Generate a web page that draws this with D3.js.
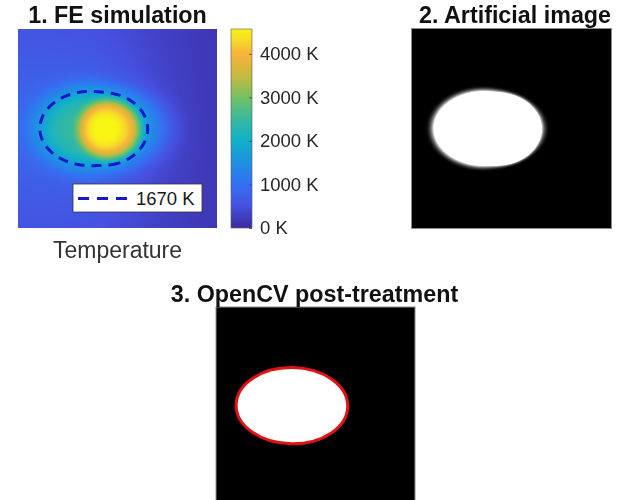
<!DOCTYPE html>
<html>
<head>
<meta charset="utf-8">
<script src="https://cdn.jsdelivr.net/npm/d3@7"></script>
<style>
  body { margin: 0; background: #fff; }
  #wrap { position: relative; width: 619px; height: 500px; overflow: hidden;
          font-family: "Liberation Sans", Arial, Helvetica, sans-serif; }
  #wrap canvas { position: absolute; }
  #wrap svg { position: absolute; left: 0; top: 0; }
</style>
</head>
<body>
<div id="wrap"></div>
<script>
// ---------------------------------------------------------------
// Data
// ---------------------------------------------------------------
const panelTitles = ["1. FE simulation", "2. Artificial image", "3. OpenCV post-treatment"];
const fieldLabel = "Temperature";
const colorbarTicks = [0, 1000, 2000, 3000, 4000];
const temperatureDomain = [0, 4570];
const isothermLevel = 1670;
const gridSize = [200, 200];

// Simulated temperature field on the plate (grid units, kelvin)
// ambient temperature: left edge, right edge
const ambientTemperature = [380, 150];
// heat terms: [amplitude, centre x, centre y, reach ahead, reach behind, half-height, sharpness]
const meltCore   = [2000, 92, 101, 31, 31, 30, 3];
const hotSpot    = [300, 92, 101, 15, 15, 15, 1];
const meltTrail  = [1700, 75, 100, 70, 58, 42.5, 2];
const wideHalo   = [500, 60, 100, 80, 150, 110, 1];

// parula colour map (position along the bar, colour)
const parulaPositions = [0, 0.109, 0.219, 0.328, 0.438, 0.547, 0.656, 0.766, 0.875, 0.94, 1];
const parulaColors = ["#3b2ba0", "#4650e0", "#3470f2", "#1e90e2", "#12b0c8", "#35b9a0",
                      "#74c062", "#c6ba40", "#f9b33a", "#f5d82a", "#f8f514"];

// ---------------------------------------------------------------
// Layout
// ---------------------------------------------------------------
const W = 619, H = 500;
const side = 199;
const p1 = { x: 18, y: 29 };
const cbar = { x: 231, y: 29, w: 21, h: 199 };
const p2 = { x: 412, y: 29 };
const p3 = { x: 216, y: 307 };

const [nx, ny] = gridSize;
const gx = d3.scaleLinear().domain([0, nx]).range([0, side]);
const gy = d3.scaleLinear().domain([0, ny]).range([0, side]);
const parula = d3.scaleLinear().domain(parulaPositions).range(parulaColors)
  .interpolate(d3.interpolateRgb).clamp(true);
const color = d3.scaleLinear().domain(temperatureDomain).range([0, 1]).clamp(true);
const colorOf = t => parula(color(t));
const ambient = d3.scaleLinear().domain([0, nx]).range(ambientTemperature);

function term(p, x, y) {
  const [A, cx, cy, ahead, behind, hy, power] = p;
  const dx = (x - cx) / (x >= cx ? ahead : behind);
  const dy = (y - cy) / hy;
  return A * Math.exp(-Math.pow(dx * dx + dy * dy, power));
}
function temperature(x, y) {
  return ambient(x) + term(meltCore, x, y) + term(hotSpot, x, y)
       + term(meltTrail, x, y) + term(wideHalo, x, y);
}

// sampled field on the grid
const values = new Float64Array(nx * ny);
for (let j = 0; j < ny; j++)
  for (let i = 0; i < nx; i++)
    values[j * nx + i] = temperature(i + 0.5, j + 0.5);

const wrap = d3.select("#wrap");

// ---------------------------------------------------------------
// Raster panels
// ---------------------------------------------------------------
function paintCanvas(pos, pixel) {
  const cv = wrap.append("canvas")
    .attr("width", side).attr("height", side)
    .style("left", pos.x + "px").style("top", pos.y + "px");
  const ctx = cv.node().getContext("2d");
  const img = ctx.createImageData(side, side);
  for (let py = 0; py < side; py++) {
    for (let px = 0; px < side; px++) {
      const t = temperature(gx.invert(px + 0.5), gy.invert(py + 0.5));
      const c = d3.rgb(pixel(t));
      const k = (py * side + px) * 4;
      img.data[k] = c.r; img.data[k + 1] = c.g; img.data[k + 2] = c.b; img.data[k + 3] = 255;
    }
  }
  ctx.putImageData(img, 0, 0);
}
// 1: temperature map
paintCanvas(p1, colorOf);
// 2: artificial camera image, bright above the isotherm with a soft glow below it
const glow = d3.scaleLinear().domain([isothermLevel - 420, isothermLevel]).range([0, 1]).clamp(true);
paintCanvas(p2, t => { const v = Math.pow(glow(t), 2.2) * 255; return d3.rgb(v, v, v); });

// ---------------------------------------------------------------
// SVG overlay
// ---------------------------------------------------------------
const svg = wrap.append("svg").attr("width", W).attr("height", H);

const isotherm = d3.contours().size(gridSize).thresholds([isothermLevel])(values)[0];
const gridPath = d3.geoPath(d3.geoIdentity().scale(side / nx));

const g1 = svg.append("g").attr("transform", `translate(${p1.x},${p1.y})`);
g1.append("path")
  .attr("d", gridPath(isotherm))
  .attr("fill", "none")
  .attr("stroke", "#1616cf")
  .attr("stroke-width", 3)
  .attr("stroke-dasharray", "10 7");

// legend
const lg = g1.append("g").attr("transform", "translate(55,155)");
lg.append("rect").attr("width", 129).attr("height", 28)
  .attr("fill", "#fff").attr("stroke", "#333").attr("stroke-width", 0.8);
lg.append("line").attr("x1", 5).attr("x2", 57).attr("y1", 14.5).attr("y2", 14.5)
  .attr("stroke", "#1616cf").attr("stroke-width", 3).attr("stroke-dasharray", "11 8");
lg.append("text").attr("x", 63).attr("y", 21)
  .attr("font-size", 18.5).attr("fill", "#1a1a1a").text(isothermLevel + " K");

// colour bar
const defs = svg.append("defs");
const grad = defs.append("linearGradient").attr("id", "cbgrad")
  .attr("x1", 0).attr("x2", 0).attr("y1", 1).attr("y2", 0);
d3.range(0, 1.0001, 0.02).forEach(f => {
  grad.append("stop").attr("offset", f)
    .attr("stop-color", colorOf(temperatureDomain[0] + f * (temperatureDomain[1] - temperatureDomain[0])));
});
svg.append("rect").attr("x", cbar.x).attr("y", cbar.y).attr("width", cbar.w).attr("height", cbar.h)
  .attr("fill", "url(#cbgrad)").attr("stroke", "#5a5a5a").attr("stroke-width", 0.6);

const cbScale = d3.scaleLinear().domain(temperatureDomain).range([cbar.y + cbar.h, cbar.y]);
const cbAxis = svg.append("g").attr("transform", `translate(${cbar.x + cbar.w},0)`)
  .call(d3.axisRight(cbScale).tickValues(colorbarTicks).tickFormat(d => d + " K")
    .tickSizeInner(-3).tickSizeOuter(0).tickPadding(8));
cbAxis.select(".domain").remove();
cbAxis.selectAll(".tick line").attr("stroke", "#444").attr("stroke-width", 0.8);
cbAxis.selectAll(".tick text")
  .attr("font-family", "'Liberation Sans', Arial, sans-serif")
  .attr("font-size", 18.5).attr("fill", "#262626");

svg.append("text").attr("x", p1.x + side / 2).attr("y", 258)
  .attr("text-anchor", "middle").attr("font-size", 23).attr("fill", "#333")
  .text(fieldLabel);

// panel 2 frame
svg.append("rect").attr("x", p2.x - 0.5).attr("y", p2.y - 0.5)
  .attr("width", side + 1).attr("height", side + 1)
  .attr("fill", "none").attr("stroke", "#8c8c8c").attr("stroke-width", 1);

// ---------------------------------------------------------------
// Panel 3: thresholded region with fitted ellipse
// ---------------------------------------------------------------
let n = 0, sx = 0, sy = 0;
for (let j = 0; j < ny; j++) for (let i = 0; i < nx; i++)
  if (values[j * nx + i] >= isothermLevel) { n++; sx += i + 0.5; sy += j + 0.5; }
const mx = sx / n, my = sy / n;
let cxx = 0, cyy = 0, cxy = 0;
for (let j = 0; j < ny; j++) for (let i = 0; i < nx; i++)
  if (values[j * nx + i] >= isothermLevel) {
    const dx = i + 0.5 - mx, dy = j + 0.5 - my;
    cxx += dx * dx; cyy += dy * dy; cxy += dx * dy;
  }
cxx /= n; cyy /= n; cxy /= n;
const half = (cxx + cyy) / 2, root = Math.sqrt(((cxx - cyy) / 2) ** 2 + cxy * cxy);
const l1 = half + root, l2 = half - root;
const angle = 0.5 * Math.atan2(2 * cxy, cxx - cyy) * 180 / Math.PI;

const g3 = svg.append("g").attr("transform", `translate(${p3.x},${p3.y})`);
g3.append("rect").attr("width", side).attr("height", side).attr("fill", "#000")
  .attr("stroke", "#8c8c8c").attr("stroke-width", 1);
g3.append("path").attr("d", gridPath(isotherm)).attr("fill", "#fff");
g3.append("ellipse")
  .attr("cx", gx(mx)).attr("cy", gy(my) - 1)
  .attr("rx", gx(2 * Math.sqrt(l1)) + 1.5).attr("ry", gy(2 * Math.sqrt(l2)) + 0.5)
  .attr("transform", `rotate(${angle},${gx(mx)},${gy(my)})`)
  .attr("fill", "#fff")
  .attr("stroke", "#e01212").attr("stroke-width", 3);

// titles
const titlePos = [[p1.x + side / 2, 23], [515, 23], [p3.x + side / 2 - 1, 302]];
svg.selectAll("text.title").data(panelTitles).join("text")
  .attr("class", "title")
  .attr("x", (d, i) => titlePos[i][0]).attr("y", (d, i) => titlePos[i][1])
  .attr("text-anchor", "middle").attr("font-size", 23.3).attr("font-weight", "bold")
  .attr("fill", "#111").text(d => d);
</script>
</body>
</html>
